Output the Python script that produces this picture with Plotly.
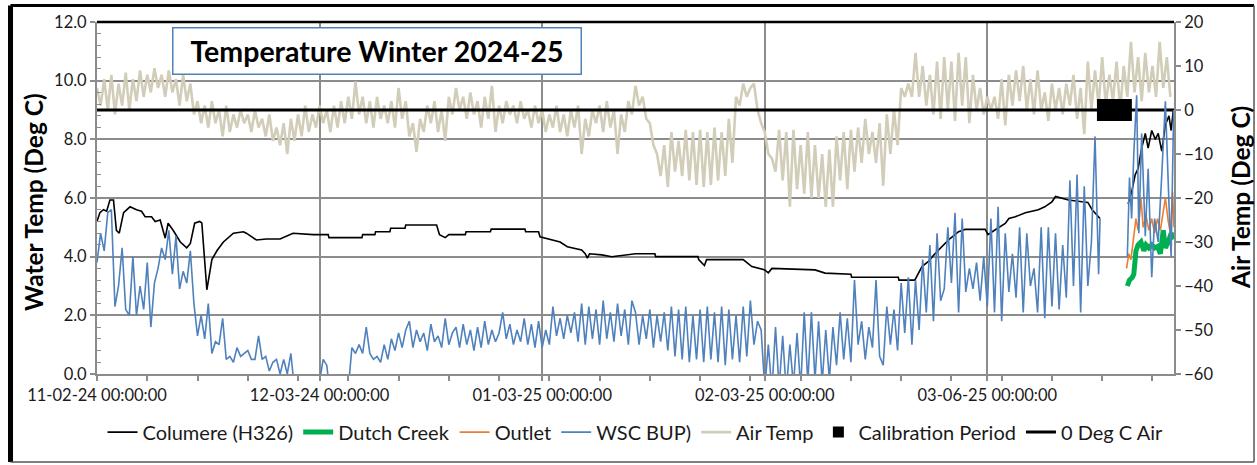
import plotly.graph_objects as go
import pandas as pd

BASE = pd.Timestamp("2024-11-02")

# ---------------- data (day offsets from 2024-11-02) ----------------
# Air temp (right axis), every half day from day 0
air_temp = [
    5, 1, 7, 0, 8, -1, 6, 1, 8.5, 0, 7, 2, 9, 3, 8, 4, 9.5, 5, 8, 3,
    9, 4, 7, 1, 8, 2, 6, -1, 2, -3, 1, -4, 2, -3, 0, -6, 1, -5, -1, -4,
    0, -3, -1, -5, 0, -4, -2, -6, -1, -7, -4, -8, -3, -10, -2, -7, -1, -6, 1, -5,
    -1, -4, 1, -3, 0, -5, 1, -4, 2, -3, 3, -2, 6.5, -1, 3, -3, 2, -4, 3, -2,
    1, -3, 2, -4, 5, -2, 2, -6, -3, -9.5, -2, -5, 1, -3, 2, -5, 0, -7, 3, -1,
    5, 0, 3, -2, 4, -1, 2, -4, 3, -2, 5.5, -5, 1, -3, 2, -1, 1, -3, 2, -2,
    0, -4, 1, -3, 0, -5, -1, -4, 1, -5, -1, -6, 0, -4, 1, -10, -2, -6, 0, -3,
    1, -5, 2, -4, 0, -10, -1, -5, 2, -1, 5.5, 1, 3, -2, -3, -8, -10, -15, -8, -17.5,
    -5, -14, -7, -15, -4.5, -16, -5, -17, -4.5, -17.5, -5, -17, -4, -16, -5, -15, -2, -12, 3, 1,
    6, 3, 5, 6, 0, -3, -5, -10, -11, -14, -4.5, -16, -5, -22, -4.5, -18, -8, -19, -5, -20,
    -8, -20, -10, -22, -9, -22, -6, -16, -5, -18, -4.5, -14, -4, -12, -2, -10, -5, -12, -3, -17.2,
    -1, -10, 0, -8, 5, 3, 6, 3, 13, 3, 10, 1, 8, -1, 11, -2, 12, 0, 11, -2.5,
    13, 1, 12, -3, 8, 0, 5, -1, 3, 0, 3, -2, 7, -3.5, 8, 1, 9, 2, 10, 0,
    7, -1, 9, 0, 4, -2.5, 6, 0, 5, -1, 6, 1, 8, -2, 5, -5.5, 11, 0, 9, 1,
    12, 1, 8, 2, 11, 0, 10, 3, 15.5, 4, 12, 2, 13, 4, 10, 3, 15.5, 5, 12, 3,
]

# WSC BUP) water temp, every half day from day 0 to 139.5
wsc_main = [
    3.8, 4.8, 4.2, 5.5, 5.6, 2.3, 3.0, 4.3, 2.2, 2.0, 4.0, 2.0, 3.0, 2.2, 3.8, 1.6, 3.1, 3.6, 4.3, 3.9,
    4.9, 3.4, 4.7, 2.9, 3.5, 3.1, 4.2, 2.4, 1.3, 2.0, 1.2, 2.4, 0.7, 1.1, 1.0, 1.9, 0.5, 0.6, 0.4, 0.9,
    0.6, 0.7, 0.8, 0.5, 0.5, 1.3, 0.5, 0.6, 0.1, 0.4, 0.5, 0.0, 0.5, 0.0, 0.7, -0.5, -0.2, -0.6, -0.1, -0.8,
    -0.2, -1.0, -0.3, 0.5, 0.3, -0.8, -1.0, -0.8, -1.0, -0.8, -0.5, 0.9, 0.7, 1.0, 0.7, 1.6, 0.7, 0.5, 0.6, 0.4,
    1.0, 0.5, 1.2, 0.8, 1.4, 0.9, 1.5, 1.8, 0.9, 1.5, 1.1, 1.4, 0.8, 1.7, 1.1, 1.3, 0.9, 1.9, 1.0, 1.4,
    1.6, 0.9, 1.7, 1.0, 1.5, 0.8, 1.6, 0.9, 1.8, 1.0, 1.5, 1.1, 1.4, 2.1, 1.2, 1.7, 1.0, 1.5, 1.1, 1.9,
    1.0, 1.7, 0.9, 1.8, 0.9, 1.5, 1.0, 2.3, 1.3, 1.9, 1.2, 2.0, 1.4, 2.1, 1.1, 2.4, 1.0, 2.3, 1.2, 2.2,
    1.0, 2.5, 1.2, 2.1, 1.1, 2.4, 1.3, 2.2, 1.0, 2.5, 2.1, 1.0, 2.0, 1.2, 2.2, 0.9, 2.0, 1.1, 2.1, 0.8,
    2.3, 0.6, 2.2, 0.5, 2.3, 0.4, 2.0, 0.5, 2.2, 0.4, 2.3, 0.5, 2.1, 0.4, 2.3, 0.3, 2.2, 0.5, 2.0, 0.4,
    2.3, 0.6, 2.5, 1.0, 1.8, 1.5, -0.5, 1.0, -0.6, 1.6, -0.5, 1.3, -0.6, 1.0, -0.4, 1.4, -0.5, 2.1, -0.3, 2.1,
    -0.2, 1.8, -0.3, 1.5, -0.2, 1.6, 0.3, 2.1, 0.5, 1.9, 0.4, 3.2, 1.0, 1.8, 0.5, 1.6, 0.9, 3.2, 0.6, 0.3,
    2.3, 1.0, 2.2, 0.8, 3.1, 1.4, 3.3, 1.0, 3.2, 1.5, 3.9, 2.1, 4.4, 1.8, 4.8, 2.5, 2.9, 5.0, 3.1, 5.5,
    2.1, 5.3, 2.8, 3.6, 2.9, 3.8, 2.5, 4.0, 2.3, 5.3, 2.1, 5.7, 1.8, 4.8, 2.8, 4.1, 2.6, 5.0, 2.1, 4.8,
    3.0, 3.6, 2.1, 5.0, 1.9, 5.0, 2.3, 4.8, 2.2, 4.4, 2.6, 6.6, 3.0, 6.8, 2.1, 6.4, 3.0, 4.5, 8.1, 3.4,
]
wsc_tail_day = [139.7, 141.5, 143.5, 143.8, 144.1, 144.4, 144.8, 145.1, 145.5, 146.0, 146.4,
                146.9, 147.3, 147.8, 148.3, 148.8, 149.3, 149.6, 149.95]
wsc_tail_val = [5.3, None, 4.0, 6.7, 5.3, 7.5, 9.5, 4.8, 8.2, 4.7, 7.0,
                3.3, 5.3, 4.5, 6.8, 9.3, 5.8, 4.0, 9.0]

# Columere (H326)
columere_day = [0, 0.4, 0.9, 1.35, 1.8, 2.3, 2.7, 3.1, 3.7, 4.6, 5.5, 6.2, 6.7, 7.6, 8.1, 8.8, 9.5,
                9.9, 10.6, 11.6, 12.5, 13.0, 13.6, 14.3, 14.6, 15.3, 16.0, 16.7, 17.6, 19.0, 20.4,
                20.8, 22.2, 23.6, 25.5, 27.3, 30.1, 32.2, 32.3, 36.9, 37.0, 38.7, 38.8, 40.8, 40.9,
                42.9, 43.0, 47.3, 47.7, 48.5, 49.0, 51.3, 51.4, 54.8, 54.9, 59.6, 59.7, 61.5, 61.7,
                63.0, 64.5, 65.5, 67.5, 68.0, 68.3, 68.6, 70.3, 71.7, 75.0, 77.7, 77.8, 83.7, 83.8,
                84.6, 84.9, 90.0, 90.5, 91.2, 93.0, 93.5, 94.0, 100.0, 101.4, 105.0, 105.1, 111.6,
                111.7, 113.9, 114.9, 115.8, 116.7, 117.6, 118.6, 120.0, 120.9, 123.7, 124.1, 125.0,
                126.5, 127.0, 127.9, 129.3, 131.1, 132.0, 133.0, 133.5, 134.4, 135.3, 137.2, 138.0,
                138.6, 139.0, 139.7, 141.5, 143.6, 144.1, 144.6, 145.0, 145.5, 146.0, 146.4, 146.9,
                147.4, 147.8, 148.3, 148.8, 149.3, 149.6, 149.9]
columere_val = [5.2, 5.5, 5.6, 5.55, 5.93, 5.93, 4.9, 4.8, 5.5, 5.7, 5.6, 5.55, 5.36, 5.36, 5.2, 5.25, 4.63,
                5.14, 4.9, 4.5, 4.3, 4.45, 5.14, 5.2, 5.15, 2.87, 3.9, 4.2, 4.5, 4.8, 4.85,
                4.8, 4.57, 4.6, 4.6, 4.8, 4.75, 4.75, 4.65, 4.65, 4.75, 4.75, 4.85, 4.85, 4.97,
                4.97, 5.08, 5.08, 4.75, 4.65, 4.75, 4.75, 4.85, 4.85, 4.94, 4.94, 4.85, 4.85, 4.68,
                4.6, 4.5, 4.34, 4.23, 4.1, 3.95, 4.1, 4.06, 4.0, 4.1, 4.1, 4.0, 4.0, 3.9,
                3.7, 3.9, 3.9, 3.8, 3.66, 3.55, 3.45, 3.6, 3.55, 3.44, 3.4, 3.3, 3.3,
                3.2, 3.2, 3.66, 3.84, 4.1, 4.34, 4.57, 4.85, 4.93, 4.93, 4.75, 4.9,
                5.13, 5.3, 5.36, 5.5, 5.6, 5.7, 5.87, 6.05, 6.0, 5.93, 5.87, 5.85,
                5.6, 5.48, 5.3, None, 5.8, 6.2, 6.8, 7.0, 7.7, 8.2, 7.7, 8.3,
                8.0, 8.2, 7.6, 8.5, 8.8, 8.3, 9.0]

# Dutch Creek
dutch_day = [143.5, 143.8, 144.2, 144.4, 144.7, 145.0, 145.4, 145.8, 146.1, 146.5, 146.9,
             147.3, 147.7, 148.1, 148.5, 148.8, 149.2, 149.6, 150.0]
dutch_val = [3.0, 3.2, 3.3, 3.4, 4.2, 4.4, 4.5, 4.2, 4.4, 4.3, 4.4,
             4.3, 4.35, 4.1, 4.9, 4.3, 4.5, 4.8, 4.6]

# Outlet
outlet_day = [143.4, 143.7, 144.0, 144.3, 144.7, 145.0, 145.4, 145.7, 146.1, 146.5, 146.9,
              147.3, 147.7, 148.1, 148.5, 148.8, 149.2, 149.5, 149.8, 150.0]
outlet_val = [3.6, 4.1, 3.9, 4.6, 5.3, 4.9, 6.0, 5.0, 5.4, 4.9, 5.3,
              4.8, 5.3, 4.9, 5.6, 6.0, 5.2, 4.8, 6.2, 5.0]

# Calibration period (air axis)
calib_day = [140.8, 141.2, 141.7, 142.2, 142.6]
calib_val = [0, 0, 0, 0, 0]

# 0 Deg C air reference
zero_day = [0, 150]
zero_val = [0, 0]

x_tick_days = [0, 31, 62, 93, 124]
x_tick_text = ["11-02-24 00:00:00", "12-03-24 00:00:00", "01-03-25 00:00:00",
               "02-03-25 00:00:00", "03-06-25 00:00:00"]


def dates(days):
    return [BASE + pd.Timedelta(days=d) for d in days]


air_day = [i * 0.5 for i in range(len(air_temp))]
wsc_day = [i * 0.5 for i in range(len(wsc_main))] + wsc_tail_day
wsc_val = wsc_main + wsc_tail_val

FONT = "Lato, 'Open Sans', sans-serif"
GRID = "#8c8c8c"
TXT = "#1a1a1a"

fig = go.Figure()
# water temps on the left axis (overlay y2, drawn above air traces)
fig.add_trace(go.Scatter(x=dates(columere_day), y=columere_val, name="Columere (H326)",
                         mode="lines", line=dict(color="black", width=1.6), yaxis="y2"))
fig.add_trace(go.Scatter(x=dates(dutch_day), y=dutch_val, name="Dutch Creek",
                         mode="lines", line=dict(color="#00B050", width=5), yaxis="y2"))
fig.add_trace(go.Scatter(x=dates(outlet_day), y=outlet_val, name="Outlet",
                         mode="lines", line=dict(color="#ED7D31", width=1.6), yaxis="y2"))
fig.add_trace(go.Scatter(x=dates(wsc_day), y=wsc_val, name="WSC BUP)",
                         mode="lines", line=dict(color="#4F81BD", width=1.6), yaxis="y2"))
# air temps on the right axis
fig.add_trace(go.Scatter(x=dates(air_day), y=air_temp, name="Air Temp",
                         mode="lines", line=dict(color="#D2CDB9", width=2.6), yaxis="y"))
fig.add_trace(go.Scatter(x=dates(calib_day), y=calib_val, name="Calibration Period",
                         mode="markers", marker=dict(symbol="square", size=22, color="black"),
                         yaxis="y", showlegend=False, legendgroup="cal"))
# legend entry for the calibration period with a small square symbol
fig.add_trace(go.Scatter(x=[None], y=[None], name="Calibration Period",
                         mode="markers", marker=dict(symbol="square", size=11, color="black"),
                         yaxis="y", legendgroup="cal"))
fig.add_trace(go.Scatter(x=dates(zero_day), y=zero_val, name="0 Deg C Air",
                         mode="lines", line=dict(color="black", width=3), yaxis="y"))

fig.update_layout(
    width=1257, height=465,
    margin=dict(l=97, r=83, t=22, b=91),
    paper_bgcolor="white", plot_bgcolor="white",
    font=dict(family=FONT, size=16, color=TXT),
    showlegend=True,
    legend=dict(orientation="h", x=0.5, xanchor="center", y=-0.165, yanchor="middle",
                font=dict(size=20, color=TXT), traceorder="normal",
                itemwidth=30, bgcolor="rgba(0,0,0,0)"),
    xaxis=dict(
        type="date",
        range=[BASE, BASE + pd.Timedelta(days=150)],
        tickmode="array", tickvals=dates(x_tick_days), ticktext=x_tick_text,
        ticks="outside", ticklen=5, tickwidth=1.5, tickcolor=GRID,
        showgrid=True, gridcolor=GRID, gridwidth=2,
        showline=True, linecolor=GRID, linewidth=2,
        minor=dict(ticks="outside", ticklen=5, tickwidth=1.5, tickcolor=GRID,
                   tickmode="linear", tick0=BASE, dtick=7 * 86400000, showgrid=False),
        tickfont=dict(size=16.5),
        zeroline=False,
    ),
    yaxis=dict(  # air temp, right
        range=[-60, 20], dtick=10, side="right",
        ticks="outside", ticklen=5, tickwidth=1.5, tickcolor=GRID,
        showgrid=False, zeroline=False,
        showline=True, linecolor=GRID, linewidth=2,
        tickfont=dict(size=16.5),
    ),
    yaxis2=dict(  # water temp, left
        range=[0, 12], dtick=2, tickformat=".1f", side="left", overlaying="y",
        ticks="outside", ticklen=5, tickwidth=1.5, tickcolor=GRID,
        showgrid=True, gridcolor=GRID, gridwidth=2, zeroline=False,
        showline=True, linecolor=GRID, linewidth=2,
        minor=dict(ticks="inside", ticklen=4, tickwidth=1.2, tickcolor=GRID,
                   dtick=0.4, showgrid=False),
        tickfont=dict(size=16.5),
    ),
    annotations=[
        dict(text="<b>Temperature Winter 2024-25</b>", xref="paper", yref="paper",
             x=0.2604, y=0.9162, xanchor="center", yanchor="middle", showarrow=False,
             font=dict(size=28.5, color="black", family=FONT),
             bgcolor="white", bordercolor="#4F81BD", borderwidth=1.5, borderpad=0,
             width=407, height=45),
        dict(text="<b>Water Temp (Deg C)</b>", xref="paper", yref="paper",
             x=-0.0594, y=0.4886, textangle=-90, showarrow=False,
             xanchor="center", yanchor="middle", font=dict(size=24.5, color="black", family=FONT)),
        dict(text="<b>Air Temp (Deg C)</b>", xref="paper", yref="paper",
             x=1.0613, y=0.50, textangle=-90, showarrow=False,
             xanchor="center", yanchor="middle", font=dict(size=24.5, color="black", family=FONT)),
    ],
    shapes=[
        # top border of plot area
        dict(type="line", xref="paper", yref="paper", x0=0, x1=1, y0=1, y1=1,
             line=dict(color="black", width=2.5)),
        # outer frame
        dict(type="line", xref="paper", yref="paper", x0=-0.0803, x1=-0.0803, y0=-0.25, y1=1.0469,
             line=dict(color="black", width=5)),
        dict(type="line", xref="paper", yref="paper", x0=-0.0803, x1=1.0743, y0=1.0469, y1=1.0469,
             line=dict(color="black", width=3)),
        dict(type="line", xref="paper", yref="paper", x0=1.0743, x1=1.0743, y0=-0.25, y1=1.0469,
             line=dict(color="#555555", width=1.5)),
        dict(type="line", xref="paper", yref="paper", x0=-0.0803, x1=1.0743, y0=-0.25, y1=-0.25,
             line=dict(color="#555555", width=1.5)),
    ],
)

fig.write_html("out.html", config={"displayModeBar": False},
               post_script="document.body.style.margin='0';document.body.style.padding='0';")
